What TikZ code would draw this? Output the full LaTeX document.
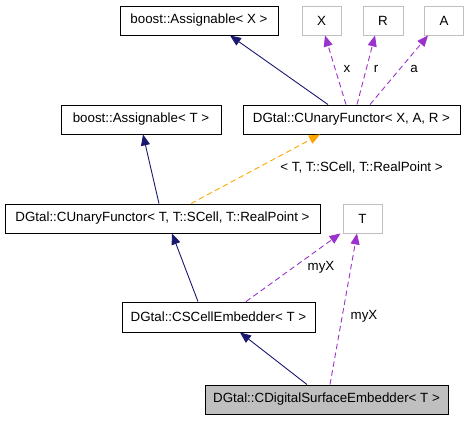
\documentclass[tikz,border=0pt]{standalone}
\usepackage{fontspec}
\setmainfont{Liberation Sans}
\usetikzlibrary{arrows.meta}
\definecolor{navy}{HTML}{191970}
\definecolor{purp}{HTML}{9A32CD}
\definecolor{orng}{HTML}{FFA500}
\definecolor{gbox}{HTML}{BFBFBF}
\begin{document}
\begin{tikzpicture}[x=1pt,y=-1pt,
  every node/.style={font=\fontsize{13.33}{16}\selectfont},
  cls/.style={draw=black,line width=0.9pt,rectangle,minimum height=29pt,inner sep=0pt,fill=white},
  tpl/.style={draw=gbox,line width=0.9pt,rectangle,minimum height=29pt,inner sep=0pt,fill=white},
  inh/.style={draw=navy,line width=0.9pt,-{Triangle[length=11pt,width=9pt,fill=navy]}},
  usage/.style={draw=purp,line width=0.9pt,dash pattern=on 5.5pt off 3.5pt,-{Triangle[length=11pt,width=9pt,fill=purp]}},
  tinst/.style={draw=orng,line width=0.9pt,dash pattern=on 5.5pt off 3.5pt,-{Triangle[length=11pt,width=9pt,fill=orng]}},
  lbl/.style={inner sep=0pt}]
\useasboundingbox (0,0) rectangle (468,421);
\node[cls,minimum width=158pt] (bx) at (199,20.5) {boost::Assignable< X >};
\node[tpl,minimum width=39pt] (X) at (321.5,20.5) {X};
\node[tpl,minimum width=40pt] (R) at (383,20.5) {R};
\node[tpl,minimum width=39pt] (A) at (444,20.5) {A};
\node[cls,minimum width=160pt] (bt) at (141,119.5) {boost::Assignable< T >};
\node[cls,minimum width=217pt] (cxar) at (351.5,119.5) {DGtal::CUnaryFunctor< X, A, R >};
\node[cls,minimum width=315pt] (ct) at (162.5,218.5) {DGtal::CUnaryFunctor< T, T::SCell, T::RealPoint >};
\node[tpl,minimum width=39pt] (T) at (362.5,218.5) {T};
\node[cls,minimum width=193pt,minimum height=30pt] (cs) at (218.5,317) {DGtal::CSCellEmbedder< T >};
\node[cls,fill=gbox,minimum width=243pt] (cd) at (326.5,399.5) {DGtal::CDigitalSurfaceEmbedder< T >};

\draw[inh] ([xshift=-23.5pt]cxar.north) -- ([xshift=31pt]bx.south);
\draw[usage] ([xshift=-5.5pt]cxar.north) -- ([xshift=3.5pt]X.south);
\draw[usage] ([xshift=5.5pt]cxar.north) -- ([xshift=-8pt]R.south);
\draw[usage] ([xshift=18.5pt]cxar.north) -- ([xshift=-16pt]A.south);
\node[lbl] (lx) at (347,69) {x};
\node[lbl] (lr) at (376,69) {r};
\node[lbl] (la) at (414,69) {a};
\draw[inh] ([xshift=-3.5pt]ct.north) -- ([xshift=2pt]bt.south);
\draw[tinst] ([xshift=28.5pt]ct.north) -- ([xshift=-31.5pt]cxar.south);
\node[lbl] (lt) at (361.5,168) {< T, T::SCell, T::RealPoint >};
\draw[inh] ([xshift=-20.5pt]cs.north) -- ([xshift=9.5pt]ct.south);
\draw[usage] ([xshift=27.5pt]cs.north) -- ([xshift=-22pt]T.south);
\node[lbl] (lm1) at (321,267) {myX};
\draw[inh] ([xshift=-19.5pt]cd.north) -- ([xshift=21.5pt]cs.south);
\draw[usage] ([xshift=3.5pt]cd.north) -- ([xshift=-5.5pt]T.south);
\node[lbl] (lm2) at (364,316) {myX};
\end{tikzpicture}
\end{document}
